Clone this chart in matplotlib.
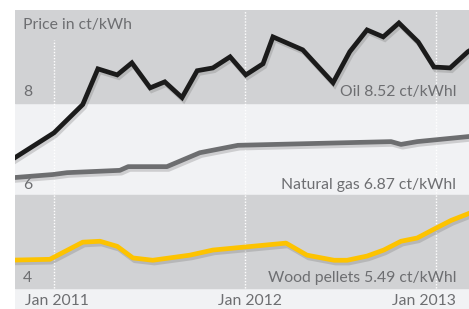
import pandas as pd
import matplotlib
matplotlib.use("Agg")
import matplotlib.pyplot as plt
import matplotlib.patheffects as pe

plt.rcParams['font.family'] = ['Lato', 'DejaVu Sans']

# ценовые ряды (ct/kWh)
oil_dates = ["2010-10-01", "2011-01-01", "2011-02-25", "2011-03-26", "2011-05-02",
             "2011-05-30", "2011-07-04", "2011-08-01", "2011-09-03", "2011-10-02",
             "2011-11-01", "2011-12-04", "2012-01-03", "2012-02-05", "2012-02-24",
             "2012-04-21", "2012-06-18", "2012-07-20", "2012-08-22", "2012-09-22",
             "2012-10-22", "2012-11-28", "2012-12-28", "2013-01-28", "2013-03-03",
             "2013-03-25"]
oil_values = [6.69, 7.35, 7.96, 8.73, 8.60, 8.86, 8.32, 8.45, 8.11, 8.69,
              8.75, 8.99, 8.60, 8.84, 9.42, 9.14, 8.43, 9.10, 9.57, 9.42,
              9.72, 9.31, 8.77, 8.75, 9.10, 9.25]

gas_dates = ["2010-10-01", "2010-12-30", "2011-01-26", "2011-05-07", "2011-05-23",
             "2011-08-05", "2011-10-07", "2011-12-19", "2012-10-07", "2012-10-26",
             "2012-11-26", "2013-03-05"]
gas_values = [6.37, 6.45, 6.49, 6.54, 6.62, 6.62, 6.92, 7.08, 7.16, 7.10,
              7.16, 7.27]

pellet_dates = ["2010-10-01", "2010-12-24", "2011-02-25", "2011-03-30", "2011-05-02",
                "2011-06-01", "2011-07-09", "2011-09-18", "2011-11-01", "2012-03-20",
                "2012-04-29", "2012-06-20", "2012-07-15", "2012-08-22", "2012-09-23",
                "2012-10-26", "2012-11-26", "2012-12-28", "2013-01-30", "2013-03-05"]
pellet_values = [4.60, 4.62, 4.99, 5.01, 4.90, 4.65, 4.60, 4.71, 4.82, 4.97,
                 4.71, 4.60, 4.60, 4.69, 4.82, 5.01, 5.08, 5.27, 5.46, 5.61]

year_ticks = ["2011-01-01", "2012-01-01", "2013-01-01"]
year_labels = ["Jan 2011", "Jan 2012", "Jan 2013"]
y_ticks = [8, 6, 4]
series_labels = ["Oil 8.52 ct/kWhl", "Natural gas 6.87 ct/kWhl", "Wood pellets 5.49 ct/kWhl"]

gray_band = "#d1d2d4"
light_band = "#f1f2f4"
text_col = "#6d6e71"

fig = plt.figure(figsize=(4.69, 3.09), dpi=100)
ax = fig.add_axes([15 / 469, 0, 454 / 469, 299 / 309])
ax.set_facecolor(light_band)

x0 = pd.Timestamp("2011-01-01")
x1 = pd.Timestamp("2013-01-01")
ppd = (436 - 54) / (x1 - x0).days
left = x0 - pd.Timedelta(days=(54 - 15) / ppd)
right = x0 + pd.Timedelta(days=(469 - 54) / ppd)
ax.set_xlim(left, right)
ax.set_ylim(3.548, 10)

ax.axhspan(8, 10, color=gray_band, zorder=0)
ax.axhspan(4, 6, color=gray_band, zorder=0)

# пунктирные линии по годам
for i, d in enumerate(year_ticks):
    top = 9.35 if i == 0 else 10
    ax.vlines(pd.Timestamp(d), 4, top, colors="white", linestyles=(0, (1, 1.2)),
              lw=1.0, zorder=1)

shadow = [pe.SimpleLineShadow(offset=(1.2, -2), shadow_color="#7a7a7a", alpha=0.3), pe.Normal()]
ax.plot(pd.to_datetime(oil_dates), oil_values, color="#1b1b1b", lw=3.4,
        solid_joinstyle="miter", path_effects=shadow, zorder=3)
ax.plot(pd.to_datetime(gas_dates), gas_values, color="#6d6e70", lw=3.4,
        path_effects=shadow, zorder=3)
ax.plot(pd.to_datetime(pellet_dates), pellet_values, color="#fdc300", lw=3.4,
        path_effects=shadow, zorder=3)

fs = 11.3
tr = ax.get_yaxis_transform()
ax.text(8 / 454, 9.68, "Price in ct/kWh", transform=tr,
        color=text_col, fontsize=fs, va="center", ha="left")
for v in y_ticks:
    ax.text(8 / 454, v + 0.22, str(v), transform=tr,
            color=text_col, fontsize=fs, va="center", ha="left")
for v, lab in zip([8, 6, 4], series_labels):
    ax.text(441 / 454, v + 0.22, lab, transform=tr,
            color=text_col, fontsize=fs, va="center", ha="right")

ax.text(10 / 454, 3.72, year_labels[0], transform=tr,
        color=text_col, fontsize=fs, va="center", ha="left")
ax.text(235 / 454, 3.72, year_labels[1], transform=tr,
        color=text_col, fontsize=fs, va="center", ha="center")
ax.text(441 / 454, 3.72, year_labels[2], transform=tr,
        color=text_col, fontsize=fs, va="center", ha="right")

ax.set_xticks([])
ax.set_yticks([])
for s in ax.spines.values():
    s.set_visible(False)

fig.savefig("out.png", dpi=100, facecolor="white")
